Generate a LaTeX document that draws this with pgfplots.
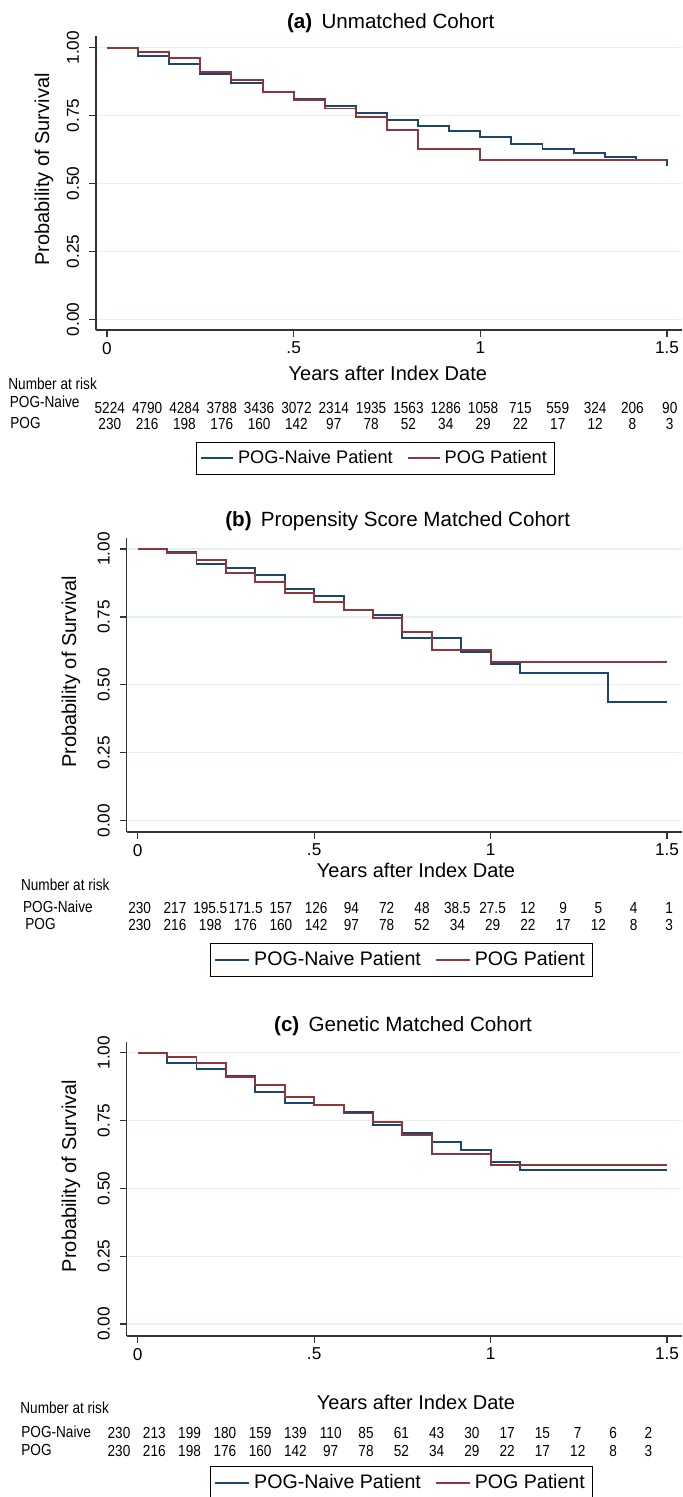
\documentclass[border=0pt]{standalone}
\usepackage{fontspec}
\setmainfont{Liberation Sans}
\newfontfamily\riskfont[FakeStretch=0.85]{Liberation Sans}
\usepackage{pgfplots}
\usepackage{pgfplotstable}
\pgfplotsset{compat=1.18}
\definecolor{navy}{HTML}{1A476F}
\definecolor{maroon}{HTML}{90353B}
\definecolor{gridc}{HTML}{E6EFF1}
\definecolor{axc}{HTML}{333333}

% Kaplan-Meier estimates (monthly steps)
\pgfplotstableread{
x y
0 1.000
0.0833 0.971
0.1667 0.940
0.25 0.903
0.3333 0.871
0.4167 0.838
0.5 0.811
0.5833 0.786
0.6667 0.758
0.75 0.733
0.8333 0.711
0.9167 0.693
1 0.671
1.0833 0.646
1.1667 0.628
1.25 0.613
1.3333 0.598
1.4167 0.586
1.5 0.586
1.5 0.566
}\naiveA
\pgfplotstableread{
x y
0 1.000
0.0833 0.984
0.1667 0.961
0.25 0.912
0.3333 0.880
0.4167 0.837
0.5 0.806
0.5833 0.776
0.6667 0.745
0.75 0.696
0.8333 0.628
0.9167 0.628
1 0.585
1.5 0.585
}\pog
\pgfplotstableread{
x y
0 1.000
0.0833 0.988
0.1667 0.946
0.25 0.931
0.3333 0.904
0.4167 0.853
0.5 0.826
0.5833 0.774
0.6667 0.757
0.75 0.674
0.8333 0.674
0.9167 0.622
1 0.577
1.0833 0.545
1.3333 0.437
1.5 0.437
}\naiveB
\pgfplotstableread{
x y
0 1.000
0.0833 0.961
0.1667 0.941
0.25 0.915
0.3333 0.855
0.4167 0.816
0.5 0.806
0.5833 0.782
0.6667 0.732
0.75 0.705
0.8333 0.672
0.9167 0.640
1 0.597
1.0833 0.569
1.5 0.569
}\naiveC

% Number at risk
\pgfplotstableread{
x a b c pog
0 5224 230 230 230
0.1 4790 217 213 216
0.2 4284 195.5 199 198
0.3 3788 171.5 180 176
0.4 3436 157 159 160
0.5 3072 126 139 142
0.6 2314 94 110 97
0.7 1935 72 85 78
0.8 1563 48 61 52
0.9 1286 38.5 43 34
1.0 1058 27.5 30 29
1.1 715 12 17 22
1.2 559 9 15 17
1.3 324 5 7 12
1.4 206 4 6 8
1.5 90 1 2 3
}\risk

\pgfplotsset{
  km/.style={
    scale only axis,
    axis x line*=bottom, axis y line*=left,
    axis line style={axc, line width=0.6pt},
    every tick/.style={axc, line width=0.6pt},
    tick align=outside,
    major tick length=3.3pt,
    xtick={0,0.5,1,1.5}, xticklabels={0,.5,1,1.5},
    ytick={0,0.25,0.5,0.75,1}, yticklabels={0.00,0.25,0.50,0.75,1.00},
    ymajorgrids, major grid style={gridc, line width=0.6pt},
    /pgf/number format/assume math mode=true,
    tick label style={font=\fontsize{8.6}{10}\selectfont},
    yticklabel style={rotate=90, anchor=south, inner sep=1.5pt},
    yticklabel shift=3.5pt,
    xticklabel style={inner sep=2.5pt},
    label style={font=\fontsize{10}{12}\selectfont},
    xlabel={Years after Index Date},
    ylabel={Probability of Survival},
    clip=false,
    legend columns=2,
    legend style={draw=black, line width=0.5pt, font=\fontsize{9.8}{11}\selectfont,
      inner xsep=2pt, inner ysep=2pt,
      /tikz/every even column/.append style={column sep=5pt}},
    legend image code/.code={\draw[#1] (0pt,0pt) -- (17pt,0pt);},
    title style={font=\fontsize{10.3}{12}\selectfont, anchor=base},
  },
  naive/.style={navy, line width=0.95pt, const plot, mark=none},
  pogs/.style={maroon, line width=0.95pt, const plot, mark=none},
  riskrow/.style={draw=none, mark=none, forget plot, nodes near coords,
    point meta=explicit symbolic,
    every node near coord/.append style={anchor=center, inner sep=0pt,
      font=\riskfont\fontsize{8}{9.5}\selectfont, text=black}},
}

\begin{document}
\begin{tikzpicture}
\useasboundingbox (0,0) rectangle (341pt,-748.5pt);

% ---------------- (a)
\begin{axis}[km, at={(48pt,-165pt)}, anchor=south west,
  width=293pt, height=147pt,
  xmin=-0.02947, xmax=1.5403, ymin=-0.0394, ymax=1.0431,
  title={\textbf{(a)}\hspace{0.45em}Unmatched Cohort},
  title style={at={(axis description cs:0.503,1.032)}, yshift=-6.8pt},
  xlabel style={at={(axis description cs:0.498,-0.1463)}, anchor=center},
  ylabel style={at={(axis description cs:-0.0887,0.546)}, anchor=center},
  legend style={at={(axis description cs:0.477,-0.38)}, anchor=north,
    font=\fontsize{9.1}{10.5}\selectfont},
  legend image code/.code={\draw[#1] (0pt,0pt) -- (16pt,0pt);},
]
\addplot[naive] table[x=x,y=y]{\naiveA};
\addlegendentry{POG-Naive Patient}
\addplot[pogs] table[x=x,y=y]{\pog};
\addlegendentry{POG Patient}
\addplot[riskrow, every node near coord/.append style={xshift=1.4pt}] table[x=x, y expr=-0.3255, meta=a]{\risk};
\addplot[riskrow, every node near coord/.append style={xshift=1.4pt}] table[x=x, y expr=-0.3837, meta=pog]{\risk};
\end{axis}

% ---------------- (b)
\begin{axis}[km, at={(63.35pt,-416pt)}, anchor=south west,
  width=277.65pt, height=147pt,
  xmin=-0.0312, xmax=1.5424, ymin=-0.0416, ymax=1.0405,
  title={\textbf{(b)}\hspace{0.45em}Propensity Score Matched Cohort},
  title style={at={(axis description cs:0.488,1.034)}, yshift=-5.4pt},
  xlabel style={at={(axis description cs:0.521,-0.129)}, anchor=center},
  ylabel style={at={(axis description cs:-0.1003,0.545)}, anchor=center},
  legend style={at={(axis description cs:0.495,-0.3776)}, anchor=north},
]
\addplot[naive] table[x=x,y=y]{\naiveB};
\addlegendentry{POG-Naive Patient}
\addplot[pogs] table[x=x,y=y]{\pog};
\addlegendentry{POG Patient}
\addplot[riskrow, every node near coord/.append style={xshift=1pt}] table[x=x, y expr=-0.3202, meta=b]{\risk};
\addplot[riskrow, every node near coord/.append style={xshift=1pt}] table[x=x, y expr=-0.385, meta=pog]{\risk};
\end{axis}

% ---------------- (c)
\begin{axis}[km, at={(63.35pt,-668pt)}, anchor=south west,
  width=277.65pt, height=147.15pt,
  xmin=-0.0312, xmax=1.5424, ymin=-0.0442, ymax=1.0405,
  title={\textbf{(c)}\hspace{0.45em}Genetic Matched Cohort},
  title style={at={(axis description cs:0.4976,1.034)}, yshift=-5.8pt},
  xlabel style={at={(axis description cs:0.521,-0.224)}, anchor=center},
  ylabel style={at={(axis description cs:-0.1003,0.544)}, anchor=center},
  legend style={at={(axis description cs:0.495,-0.44)}, anchor=north},
]
\addplot[naive] table[x=x,y=y]{\naiveC};
\addlegendentry{POG-Naive Patient}
\addplot[pogs] table[x=x,y=y]{\pog};
\addlegendentry{POG Patient}
\addplot[riskrow, every node near coord/.append style={xshift=-9.35pt}] table[x=x, y expr=-0.4007, meta=c]{\risk};
\addplot[riskrow, every node near coord/.append style={xshift=-9.35pt}] table[x=x, y expr=-0.467, meta=pog]{\risk};
\end{axis}

% row labels of the risk tables
\begin{scope}[x=0.5pt, y=-0.5pt, every node/.style={anchor=west, inner sep=0pt, font=\riskfont\fontsize{8}{9.5}\selectfont}]
\node at (8,384) {Number at risk};
\node at (9.5,401.7) {POG-Naive};
\node at (10,422.7) {POG};
\node at (20.7,885) {Number at risk};
\node at (22.7,906.7) {POG-Naive};
\node at (25,924) {POG};
\node at (20,1408) {Number at risk};
\node at (21,1432) {POG-Naive};
\node at (21,1450) {POG};
\end{scope}
\end{tikzpicture}
\end{document}
